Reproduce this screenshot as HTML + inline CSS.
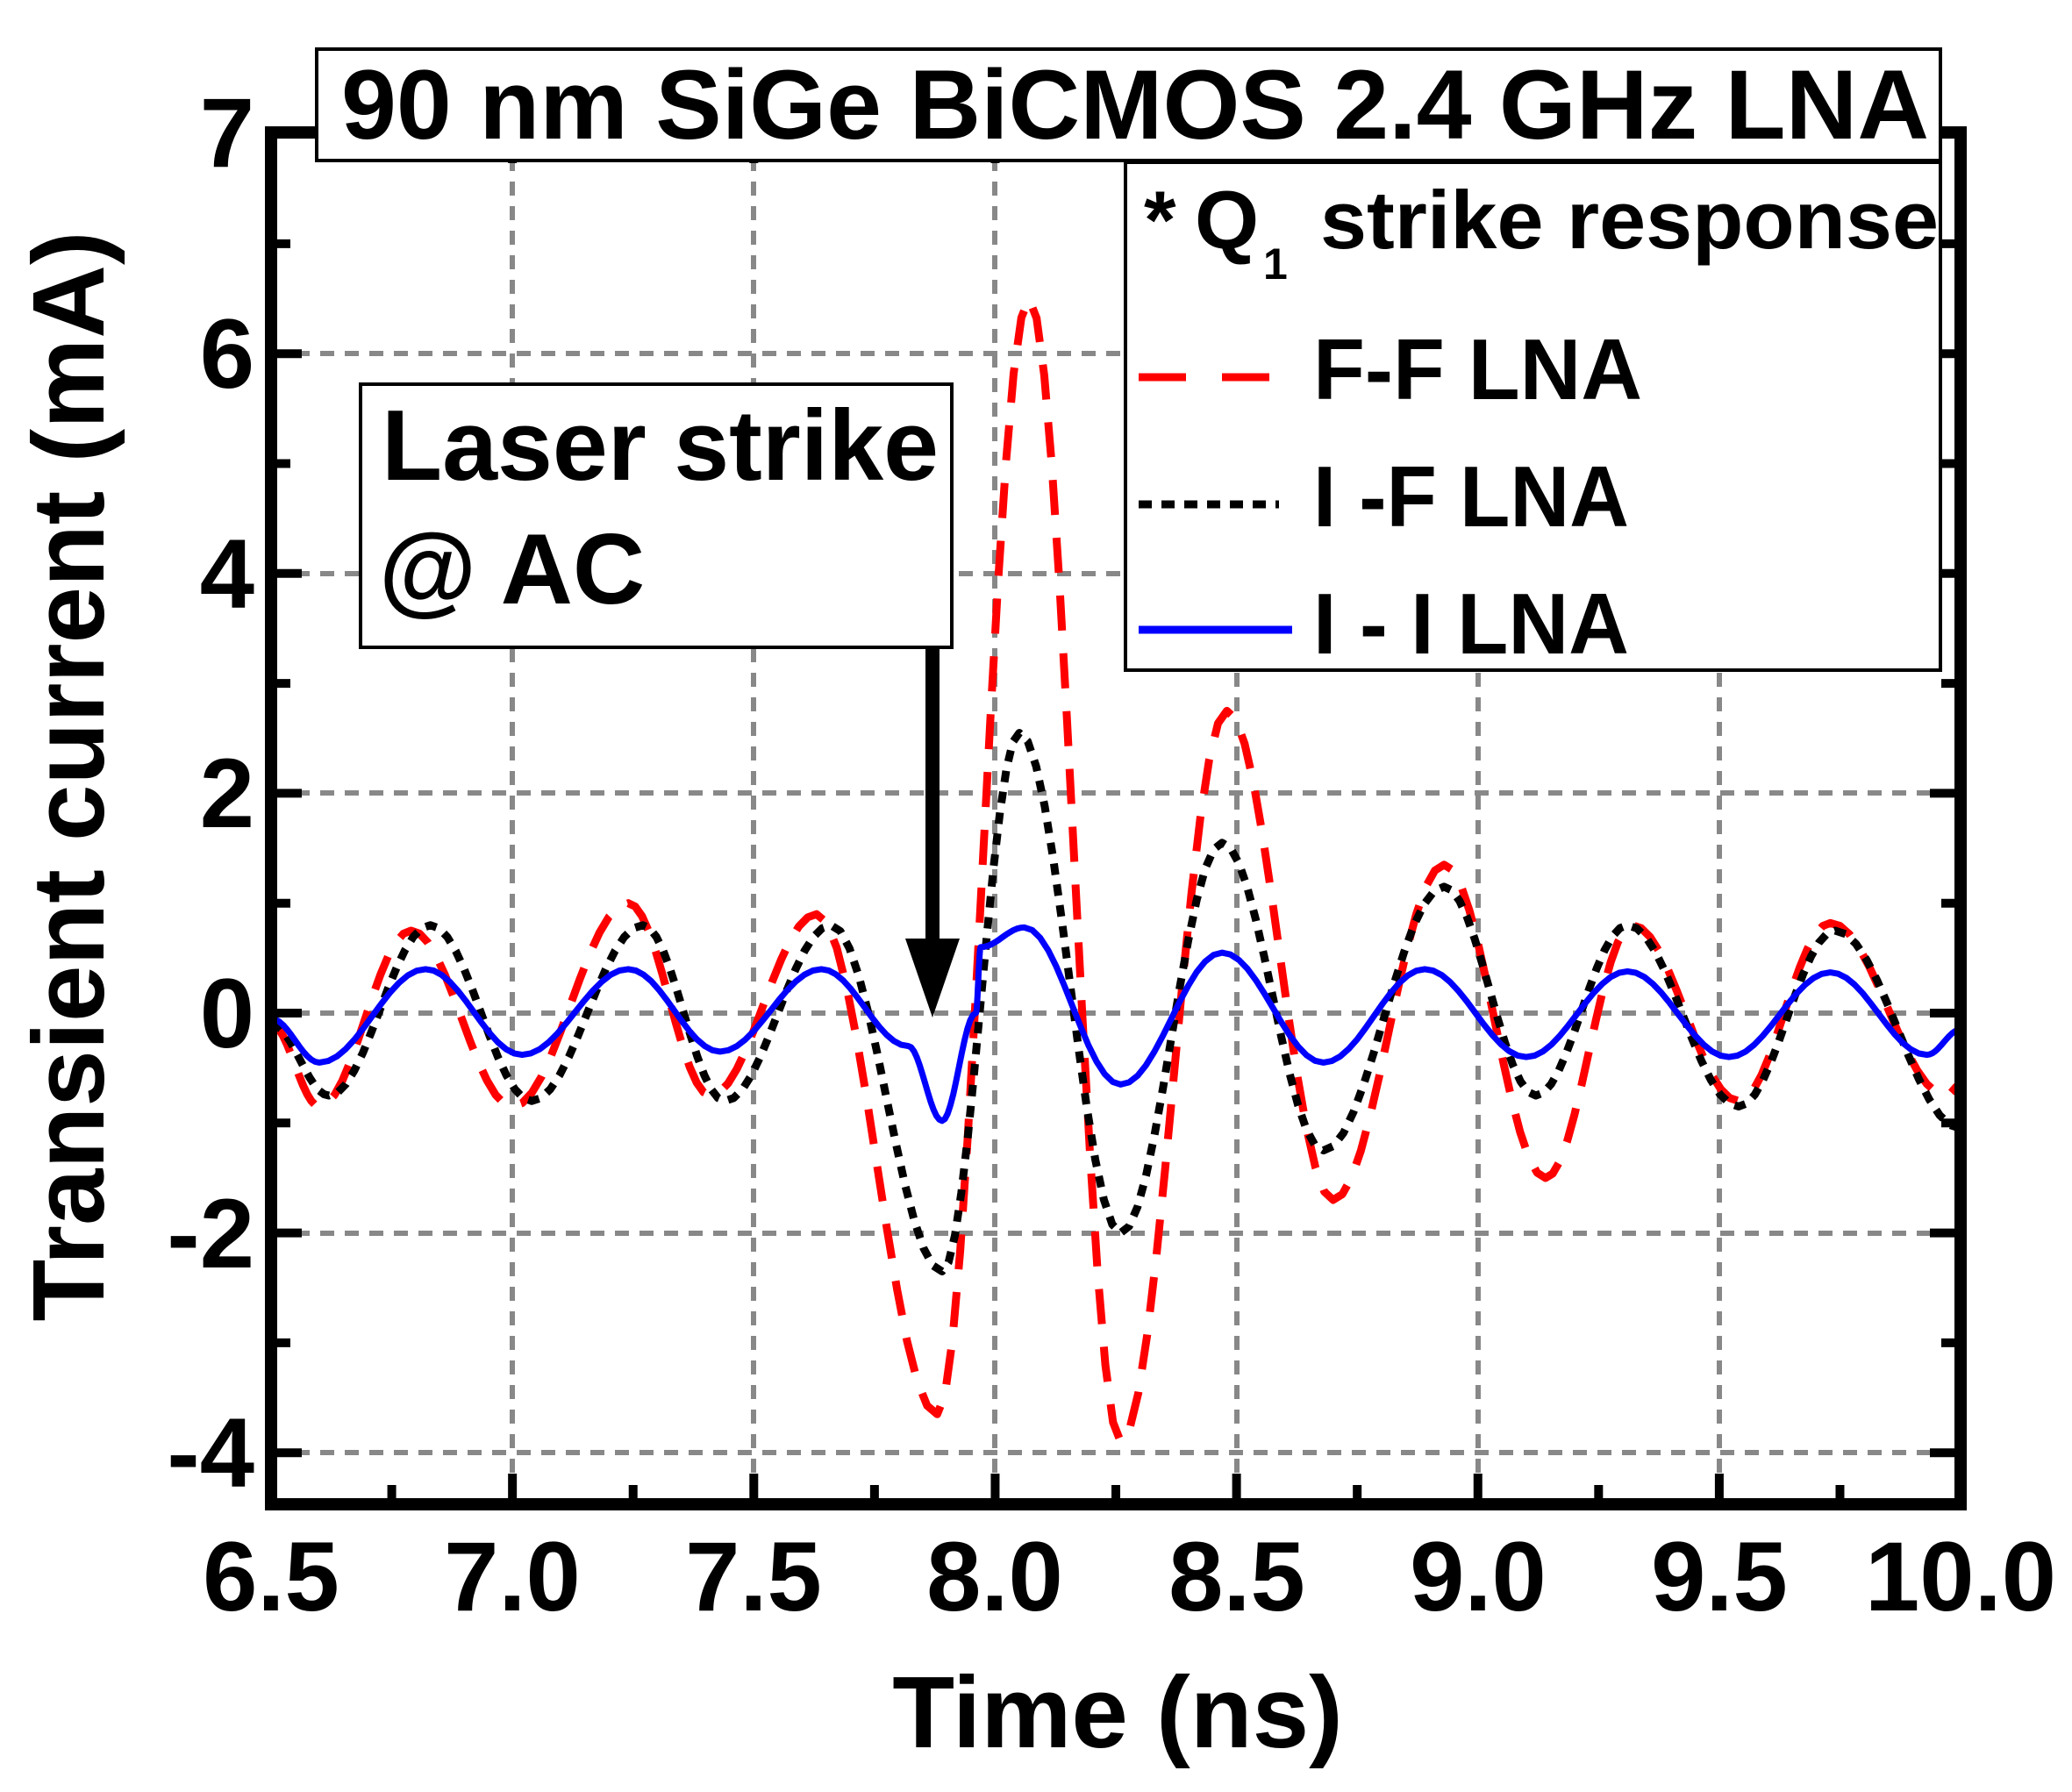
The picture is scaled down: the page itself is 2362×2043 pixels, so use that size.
<!DOCTYPE html>
<html><head><meta charset="utf-8"><style>
html,body{margin:0;padding:0;background:#fff;}
svg{display:block;}
text{font-family:"Liberation Sans",Arial,sans-serif;font-weight:bold;fill:#000;}
</style></head><body>
<svg id="s" width="2362" height="2043" viewBox="0 0 2362 2043" xmlns="http://www.w3.org/2000/svg">
<rect width="2362" height="2043" fill="#fff"/>
<g stroke="#888" stroke-width="6" stroke-dasharray="16,12" fill="none">
<line x1="584" y1="151" x2="584" y2="1715"/>
<line x1="859" y1="151" x2="859" y2="1715"/>
<line x1="1134" y1="151" x2="1134" y2="1715"/>
<line x1="1410" y1="151" x2="1410" y2="1715"/>
<line x1="1685" y1="151" x2="1685" y2="1715"/>
<line x1="1960" y1="151" x2="1960" y2="1715"/>
<line x1="309" y1="403" x2="2235" y2="403"/>
<line x1="309" y1="654" x2="2235" y2="654"/>
<line x1="309" y1="904" x2="2235" y2="904"/>
<line x1="309" y1="1155" x2="2235" y2="1155"/>
<line x1="309" y1="1406" x2="2235" y2="1406"/>
<line x1="309" y1="1656" x2="2235" y2="1656"/>
</g>
<g id="curves" fill="none" stroke-linejoin="round"></g>
<!-- axes frame -->
<rect x="309" y="151" width="1926" height="1564" fill="none" stroke="#000" stroke-width="14"/>
<g stroke="#000" stroke-width="10" id="ticks"></g>
<!-- title box -->
<rect x="361" y="56" width="1851" height="127" fill="#fff" stroke="#000" stroke-width="4"/>
<text x="389" y="158" font-size="112" textLength="1810" lengthAdjust="spacingAndGlyphs">90 nm SiGe BiCMOS 2.4 GHz LNA</text>
<!-- legend -->
<rect x="1283" y="185" width="929" height="579" fill="#fff" stroke="#000" stroke-width="4"/>
<text x="1304" y="283" font-size="94">*</text>
<text x="1362" y="283" font-size="94">Q</text>
<text x="1440" y="318" font-size="50">1</text>
<text x="1505" y="283" font-size="94" textLength="705" lengthAdjust="spacingAndGlyphs">strike response</text>
<line x1="1298" y1="430" x2="1455" y2="430" stroke="#f00" stroke-width="9" stroke-dasharray="54,41"/>
<line x1="1298" y1="575" x2="1458" y2="575" stroke="#000" stroke-width="9" stroke-dasharray="15,11"/>
<line x1="1298" y1="718" x2="1473" y2="718" stroke="#00f" stroke-width="9"/>
<text x="1497" y="455" font-size="98" textLength="375" lengthAdjust="spacingAndGlyphs">F-F LNA</text>
<text x="1497" y="600" font-size="98" textLength="360" lengthAdjust="spacingAndGlyphs">I -F LNA</text>
<text x="1497" y="745" font-size="98" textLength="360" lengthAdjust="spacingAndGlyphs">I - I LNA</text>
<!-- laser box -->
<rect x="411" y="438" width="674" height="300" fill="#fff" stroke="#000" stroke-width="4"/>
<text x="435" y="547" font-size="114" textLength="635" lengthAdjust="spacingAndGlyphs">Laser strike</text>
<text x="432" y="688" font-size="114">@ AC</text>
<line x1="1063" y1="738" x2="1063" y2="1080" stroke="#000" stroke-width="16"/>
<polygon points="1032,1070 1094,1070 1063,1160" fill="#000"/>
<!-- tick labels -->
<g font-size="112" text-anchor="end">
<text x="290" y="190">7</text>
<text x="290" y="442">6</text>
<text x="290" y="693">4</text>
<text x="290" y="943">2</text>
<text x="290" y="1194">0</text>
<text x="290" y="1445">-2</text>
<text x="290" y="1695">-4</text>
</g>
<g font-size="112" text-anchor="middle">
<text x="309" y="1836">6.5</text>
<text x="584" y="1836">7.0</text>
<text x="859" y="1836">7.5</text>
<text x="1134" y="1836">8.0</text>
<text x="1410" y="1836">8.5</text>
<text x="1685" y="1836">9.0</text>
<text x="1960" y="1836">9.5</text>
<text x="2235" y="1836">10.0</text>
</g>
<text x="1274" y="1992" font-size="116" text-anchor="middle">Time (ns)</text>
<text transform="translate(118,885) rotate(-90)" font-size="116" text-anchor="middle" textLength="1243" lengthAdjust="spacingAndGlyphs">Transient current (mA)</text>
</svg>
<script>
(function(){
var X=function(t){return 309+(t-6.5)*550.3;};
var Y=function(v){return 1155-v*125.3;};
function path(pts){
  var d="";
  for(var i=0;i<pts.length-1;i++){
    var a=pts[i],b=pts[i+1];
    var n=12;
    for(var k=0;k<=n;k++){
      if(i>0&&k==0)continue;
      var f=k/n,g=(1-Math.cos(Math.PI*f))/2;
      var t=a[0]+(b[0]-a[0])*f, v=a[1]+(b[1]-a[1])*g;
      d+=(d?"L":"M")+X(t).toFixed(1)+","+Y(v).toFixed(1);
    }
  }
  return d;
}
var red=[[6.5,-0.1],[6.6,-0.85],[6.79,0.75],[7.0,-0.85],[7.24,1.0],[7.41,-0.75],[7.63,0.9],[7.88,-3.65],[8.07,6.5],[8.26,-3.9],[8.48,2.75],[8.7,-1.7],[8.93,1.35],[9.14,-1.5],[9.32,0.8],[9.54,-0.8],[9.73,0.82],[9.97,-0.75],[10.0,-0.65]];
var blk=[[6.5,-0.1],[6.62,-0.75],[6.83,0.8],[7.04,-0.8],[7.27,0.8],[7.44,-0.8],[7.66,0.8],[7.89,-2.35],[8.05,2.55],[8.26,-2.0],[8.47,1.55],[8.68,-1.25],[8.93,1.15],[9.12,-0.75],[9.31,0.8],[9.54,-0.85],[9.74,0.75],[10.0,-1.05]];
var blu=[[6.5,-0.05],[6.6,-0.45],[6.82,0.4],[7.02,-0.38],[7.24,0.4],[7.43,-0.35],[7.64,0.4],[7.82,-0.3],[7.89,-0.98],[7.96,0.0],[7.97,0.6],[8.06,0.78],[8.26,-0.65],[8.47,0.55],[8.68,-0.45],[8.89,0.4],[9.1,-0.4],[9.31,0.38],[9.52,-0.4],[9.73,0.37],[9.93,-0.38],[10.0,-0.15]];
var g=document.getElementById("curves"),ns="http://www.w3.org/2000/svg";
function add(p,c,w,da){var e=document.createElementNS(ns,"path");e.setAttribute("d",path(p));e.setAttribute("stroke",c);e.setAttribute("stroke-width",w);if(da)e.setAttribute("stroke-dasharray",da);g.appendChild(e);}
add(red,"#f00",9,"40,26");
add(blk,"#000",9,"13,11");
add(blu,"#00f",7,null);
var tk=document.getElementById("ticks"),s="";
function L(a,b,c,d){var e=document.createElementNS(ns,"line");e.setAttribute("x1",a);e.setAttribute("y1",b);e.setAttribute("x2",c);e.setAttribute("y2",d);tk.appendChild(e);}
for(var t=6.75;t<10;t+=0.25){var x=X(t),len=(Math.abs((t*2)%1)<0.01)?35:22;L(x,1715,x,1715-len);L(x,151,x,151+len);}
for(var v=-4;v<=7;v+=1){var y=Y(v),len=(v%2==0)?35:22;L(309,y,309+len,y);L(2235,y,2235-len,y);}
})();
</script>
</body></html>
